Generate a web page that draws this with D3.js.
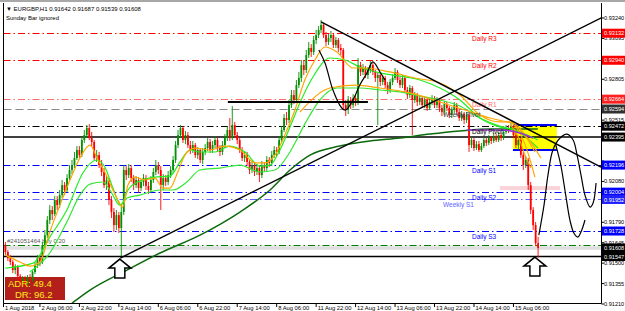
<!DOCTYPE html>
<html>
<head>
<meta charset="utf-8">
<script src="https://cdn.jsdelivr.net/npm/d3@7"></script>
<style>
html, body { margin: 0; padding: 0; background: #fff; }
svg { display: block; font-family: "Liberation Sans", Arial, sans-serif; }
</style>
</head>
<body>
<div class="chart"></div>
<script>
// EURGBP H1 candles, one value per bar
const candleOpen = [
0.91628,0.91579,0.91536,0.91508,0.91451,0.91479,0.91408,0.91366,0.91394,0.91351,
0.91401,0.91380,0.91437,0.91486,0.91536,0.91508,0.91628,0.91699,0.91806,0.91877,
0.91848,0.91948,0.91912,0.91983,0.92054,0.92019,0.92104,0.92161,0.92196,0.92246,
0.92303,0.92267,0.92374,0.92409,0.92459,0.92388,0.92360,0.92246,0.92267,0.92196,
0.92147,0.92054,0.92090,0.91948,0.91863,0.91770,0.91841,0.91749,0.91863,0.92161,
0.92125,0.92175,0.92104,0.92054,0.92090,0.92033,0.92076,0.92104,0.92047,0.92019,
0.92090,0.92147,0.92196,0.92161,0.92054,0.92104,0.92076,0.92125,0.92161,0.92232,
0.92338,0.92409,0.92459,0.92374,0.92409,0.92338,0.92303,0.92338,0.92267,0.92303,
0.92232,0.92289,0.92317,0.92360,0.92303,0.92338,0.92374,0.92317,0.92289,0.92338,
0.92388,0.92445,0.92388,0.92480,0.92409,0.92374,0.92303,0.92246,0.92267,0.92218,
0.92161,0.92196,0.92147,0.92175,0.92125,0.92196,0.92175,0.92232,0.92211,0.92267,
0.92303,0.92289,0.92374,0.92445,0.92530,0.92516,0.92622,0.92693,0.92658,0.92764,
0.92814,0.92906,0.92871,0.92977,0.93027,0.92999,0.93084,0.93119,0.93155,0.93190,
0.93119,0.93070,0.93098,0.93119,0.93048,0.93084,0.93027,0.93013,0.92622,0.92587,
0.92658,0.92622,0.92672,0.92644,0.92906,0.92857,0.92885,0.92835,0.92871,0.92906,
0.92857,0.92814,0.92835,0.92786,0.92814,0.92764,0.92729,0.92786,0.92814,0.92857,
0.92800,0.92764,0.92814,0.92729,0.92693,0.92743,0.92658,0.92693,0.92644,0.92672,
0.92622,0.92658,0.92601,0.92644,0.92672,0.92622,0.92658,0.92601,0.92573,0.92629,
0.92601,0.92551,0.92587,0.92622,0.92573,0.92530,0.92558,0.92516,0.92551,0.92338,
0.92374,0.92317,0.92345,0.92303,0.92331,0.92374,0.92353,0.92388,0.92367,0.92402,
0.92374,0.92409,0.92388,0.92431,0.92459,0.92445,0.92473,0.92409,0.92338,0.92374,
0.92267,0.92196,0.92232,0.92054,0.91877,0.91770,0.91642];
const candleHigh = [
0.91650,0.91593,0.91557,0.91522,0.91493,0.91486,0.91422,0.91408,0.91408,0.91415,
0.91422,0.91451,0.91508,0.91557,0.91557,0.91650,0.91735,0.91834,0.91912,0.91905,
0.91976,0.91976,0.92019,0.92090,0.92076,0.92132,0.92196,0.92232,0.92289,0.92331,
0.92331,0.92395,0.92445,0.92480,0.92487,0.92431,0.92374,0.92303,0.92289,0.92232,
0.92175,0.92118,0.92104,0.91976,0.91891,0.91877,0.91863,0.91912,0.92196,0.92189,
0.92203,0.92196,0.92125,0.92118,0.92111,0.92097,0.92132,0.92125,0.92076,0.92118,
0.92175,0.92232,0.92218,0.92189,0.92132,0.92125,0.92154,0.92189,0.92260,0.92367,
0.92445,0.92480,0.92473,0.92438,0.92431,0.92367,0.92367,0.92353,0.92324,0.92317,
0.92317,0.92345,0.92388,0.92381,0.92367,0.92402,0.92395,0.92338,0.92367,0.92416,
0.92473,0.92530,0.92615,0.92502,0.92431,0.92395,0.92324,0.92296,0.92289,0.92239,
0.92225,0.92218,0.92203,0.92196,0.92225,0.92218,0.92260,0.92253,0.92296,0.92331,
0.92324,0.92402,0.92473,0.92558,0.92573,0.92658,0.92729,0.92729,0.92800,0.92857,
0.92942,0.92942,0.93013,0.93070,0.93055,0.93112,0.93155,0.93183,0.93226,0.93205,
0.93141,0.93126,0.93148,0.93134,0.93105,0.93098,0.93055,0.93027,0.92658,0.92686,
0.92679,0.92700,0.92693,0.92956,0.92928,0.92913,0.92899,0.92892,0.92935,0.92921,
0.92871,0.92857,0.92850,0.92835,0.92828,0.92786,0.92807,0.92842,0.92885,0.92871,
0.92821,0.92835,0.92828,0.92750,0.92764,0.92757,0.92715,0.92708,0.92693,0.92686,
0.92679,0.92672,0.92665,0.92693,0.92686,0.92679,0.92672,0.92622,0.92651,0.92644,
0.92615,0.92608,0.92644,0.92637,0.92594,0.92580,0.92573,0.92573,0.92566,0.92395,
0.92388,0.92367,0.92367,0.92353,0.92395,0.92388,0.92409,0.92402,0.92424,0.92416,
0.92431,0.92424,0.92452,0.92480,0.92480,0.92495,0.92487,0.92431,0.92395,0.92388,
0.92289,0.92260,0.92246,0.92076,0.91898,0.91792,0.91687];
const candleLow = [
0.91557,0.91515,0.91486,0.91430,0.91422,0.91387,0.91337,0.91344,0.91330,0.91337,
0.91359,0.91366,0.91422,0.91465,0.91479,0.91493,0.91607,0.91678,0.91777,0.91806,
0.91834,0.91877,0.91891,0.91962,0.91983,0.92005,0.92090,0.92132,0.92175,0.92232,
0.92246,0.92253,0.92353,0.92388,0.92374,0.92331,0.92232,0.92218,0.92175,0.92118,
0.92033,0.92019,0.91912,0.91820,0.91721,0.91735,0.91714,0.91550,0.91841,0.92090,
0.92104,0.92076,0.92019,0.92033,0.91998,0.92012,0.92047,0.92019,0.91990,0.92005,
0.92069,0.92125,0.92132,0.91877,0.92019,0.92047,0.92054,0.92104,0.92140,0.92211,
0.92317,0.92388,0.92353,0.92345,0.92317,0.92274,0.92282,0.92246,0.92239,0.92211,
0.92203,0.92267,0.92296,0.92282,0.92282,0.92317,0.92296,0.92260,0.92267,0.92317,
0.92367,0.92367,0.92374,0.92388,0.92345,0.92282,0.92225,0.92218,0.92189,0.92132,
0.92140,0.92118,0.92125,0.92076,0.92104,0.92147,0.92154,0.92182,0.92189,0.92246,
0.92260,0.92274,0.92353,0.92431,0.92480,0.92495,0.92601,0.92629,0.92637,0.92743,
0.92786,0.92835,0.92850,0.92956,0.92963,0.92977,0.93055,0.93098,0.93134,0.93098,
0.93041,0.93048,0.93070,0.93027,0.93027,0.92999,0.92977,0.92587,0.92544,0.92558,
0.92594,0.92601,0.92615,0.92622,0.92828,0.92835,0.92814,0.92807,0.92850,0.92835,
0.92786,0.92480,0.92757,0.92764,0.92743,0.92700,0.92708,0.92764,0.92800,0.92779,
0.92743,0.92743,0.92708,0.92665,0.92672,0.92409,0.92637,0.92615,0.92622,0.92601,
0.92601,0.92580,0.92587,0.92622,0.92601,0.92601,0.92573,0.92544,0.92551,0.92580,
0.92530,0.92530,0.92566,0.92551,0.92509,0.92509,0.92487,0.92495,0.92289,0.92317,
0.92296,0.92303,0.92289,0.92289,0.92317,0.92331,0.92338,0.92345,0.92353,0.92360,
0.92360,0.92367,0.92374,0.92416,0.92424,0.92431,0.92388,0.92317,0.92303,0.92246,
0.92161,0.92175,0.92019,0.91848,0.91735,0.91621,0.91539];
const candleClose = [
0.91579,0.91536,0.91508,0.91451,0.91479,0.91408,0.91366,0.91394,0.91351,0.91401,
0.91380,0.91437,0.91486,0.91536,0.91508,0.91628,0.91699,0.91806,0.91877,0.91848,
0.91948,0.91912,0.91983,0.92054,0.92019,0.92104,0.92161,0.92196,0.92246,0.92303,
0.92267,0.92374,0.92409,0.92459,0.92388,0.92360,0.92246,0.92267,0.92196,0.92147,
0.92054,0.92090,0.91948,0.91863,0.91770,0.91841,0.91749,0.91863,0.92161,0.92125,
0.92175,0.92104,0.92054,0.92090,0.92033,0.92076,0.92104,0.92047,0.92019,0.92090,
0.92147,0.92196,0.92161,0.92054,0.92104,0.92076,0.92125,0.92161,0.92232,0.92338,
0.92409,0.92459,0.92374,0.92409,0.92338,0.92303,0.92338,0.92267,0.92303,0.92232,
0.92289,0.92317,0.92360,0.92303,0.92338,0.92374,0.92317,0.92289,0.92338,0.92388,
0.92445,0.92388,0.92480,0.92409,0.92374,0.92303,0.92246,0.92267,0.92218,0.92161,
0.92196,0.92147,0.92175,0.92125,0.92196,0.92175,0.92232,0.92211,0.92267,0.92303,
0.92289,0.92374,0.92445,0.92530,0.92516,0.92622,0.92693,0.92658,0.92764,0.92814,
0.92906,0.92871,0.92977,0.93027,0.92999,0.93084,0.93119,0.93155,0.93190,0.93119,
0.93070,0.93098,0.93119,0.93048,0.93084,0.93027,0.93013,0.92622,0.92587,0.92658,
0.92622,0.92672,0.92644,0.92906,0.92857,0.92885,0.92835,0.92871,0.92906,0.92857,
0.92814,0.92835,0.92786,0.92814,0.92764,0.92729,0.92786,0.92814,0.92857,0.92800,
0.92764,0.92814,0.92729,0.92693,0.92743,0.92658,0.92693,0.92644,0.92672,0.92622,
0.92658,0.92601,0.92644,0.92672,0.92622,0.92658,0.92601,0.92573,0.92629,0.92601,
0.92551,0.92587,0.92622,0.92573,0.92530,0.92558,0.92516,0.92551,0.92338,0.92374,
0.92317,0.92345,0.92303,0.92331,0.92374,0.92353,0.92388,0.92367,0.92402,0.92374,
0.92409,0.92388,0.92431,0.92459,0.92445,0.92473,0.92409,0.92338,0.92374,0.92267,
0.92196,0.92232,0.92054,0.91877,0.91770,0.91642,0.91608];

// axes
const timeTickBars = [-2,14,30,46,62,78,94,110,126,142,158,174,190,206];
const timeTickLabels = ["1 Aug 2018","2 Aug 06:00","2 Aug 22:00","3 Aug 14:00","6 Aug 06:00","6 Aug 22:00",
  "7 Aug 14:00","8 Aug 06:00","11 Aug 22:00","12 Aug 14:00","13 Aug 06:00","13 Aug 22:00","14 Aug 14:00","15 Aug 06:00"];
const priceTicks = [0.93240,0.93095,0.92950,0.92805,0.92660,0.92515,0.92370,0.92225,
  0.92080,0.91935,0.91790,0.91645,0.91500,0.91355,0.91210];

// pivot levels
const pivotPrices = [0.93132,0.92940,0.92664,0.92594,0.92472,0.92196,0.92004,0.91952,0.91728];
const pivotNames = ["Daily R3","Daily R2","Daily R1","Weekly Pivot","Daily Pivot","Daily S1","Daily S2","Weekly S1","Daily S3"];
const srPrices = [0.92395, 0.91547];
const orderPrice = 0.91630;
const orderText = "#241051464 buy 0.20";
const bidPrice = 0.91608;
const quoteText = "EURGBP,H1  0.91642 0.91687 0.91539 0.91608";
const noteText = "Sunday Bar ignored";
const adrText = ["ADR: 49.4", "DR: 96.2"];

// moving averages as [bar, price]
const ma200 = [[27.0,0.91216],[34.3,0.91309],[49.3,0.91451],[62.7,0.91572],[78.9,0.91699],[95.1,0.91863],
  [107.3,0.92019],[115.4,0.92161],[123.5,0.92267],[135.6,0.92331],[147.8,0.92367],[160.0,0.92388],
  [172.1,0.92416],[184.3,0.92438],[196.5,0.92452],[215.9,0.92452]];
const maFast = [[0,0.91465],[11.2,0.91500],[18.0,0.91685],[24.9,0.91877],[31.4,0.92140],[37.1,0.92232],
  [40.3,0.92182],[43.6,0.92033],[46.8,0.91912],[49.7,0.92019],[54.5,0.92083],[60.6,0.92111],[66.7,0.92118],
  [70.8,0.92218],[74.8,0.92303],[78.9,0.92289],[85.0,0.92289],[91.0,0.92331],[97.1,0.92289],[103.2,0.92189],
  [107.3,0.92196],[111.3,0.92303],[115.4,0.92466],[119.4,0.92637],[124.7,0.92821],[131.6,0.92956],
  [137.7,0.92942],[143.7,0.92892],[151.9,0.92850],[160.0,0.92828],[168.1,0.92800],[176.2,0.92743],
  [184.3,0.92658],[192.4,0.92530],[200.5,0.92466],[206.6,0.92445],[215.9,0.92317]];
const maSlow = [[9.9,0.91437],[18.0,0.91572],[24.9,0.91792],[30.2,0.91983],[34.3,0.92061],[39.5,0.92076],
  [42.4,0.92019],[46.4,0.91912],[49.3,0.91962],[54.5,0.91983],[62.7,0.92019],[67.9,0.92019],[73.6,0.92076],
  [78.9,0.92161],[87.0,0.92175],[95.1,0.92196],[103.2,0.92147],[109.3,0.92161],[115.4,0.92289],
  [121.4,0.92487],[127.5,0.92658],[134.4,0.92743],[143.7,0.92743],[151.9,0.92729],[160.0,0.92715],
  [168.1,0.92686],[176.2,0.92658],[184.3,0.92615],[192.4,0.92530],[200.5,0.92473],[206.6,0.92445],[215.9,0.92374]];
const maOrange = [[0,0.91557],[5.9,0.91508],[9.9,0.91479],[14.0,0.91508],[18.0,0.91721],[22.1,0.91912],
  [26.2,0.92090],[30.2,0.92246],[34.3,0.92338],[37.5,0.92232],[40.3,0.92147],[43.2,0.92033],[45.6,0.91948],
  [47.6,0.91898],[49.7,0.92054],[52.5,0.92111],[56.6,0.92090],[60.6,0.92104],[63.9,0.92033],[66.7,0.92033],
  [69.9,0.92147],[72.8,0.92267],[76.8,0.92317],[82.9,0.92303],[89.0,0.92331],[95.1,0.92303],[101.2,0.92211],
  [105.2,0.92211],[109.3,0.92267],[113.3,0.92409],[117.4,0.92587],[121.4,0.92800],[125.5,0.92942],
  [129.6,0.93034],[134.4,0.92999],[140.9,0.92885],[145.8,0.92885],[155.9,0.92857],[166.1,0.92814],
  [176.2,0.92779],[184.3,0.92693],[192.4,0.92551],[200.5,0.92502],[205.4,0.92502]];
const maOrange2 = [[119.4,0.92573],[131.6,0.92743],[141.7,0.92764],[151.9,0.92743],[164.0,0.92708],
  [176.2,0.92644],[186.3,0.92587],[196.5,0.92530],[205.4,0.92495]];
const orangeFans = [
  [[205.4,0.92502],[208.6,0.92459],[211.9,0.92374],[214.7,0.92289]],
  [[205.4,0.92495],[208.6,0.92424],[211.5,0.92303],[214.7,0.92111]],
  [[204.6,0.92487],[207.8,0.92402],[210.7,0.92267],[213.1,0.92175]],
  [[206.6,0.92480],[210.7,0.92409],[213.9,0.92338],[217.1,0.92246]]];
const purpleLine = [[187.1,0.92445],[200.5,0.92445],[208.6,0.92424],[213.9,0.92388]];

// drawings
const trendUp = [[46.6,0.91536],[242.3,0.93247]];
const trendDown = [[128.0,0.93212],[241.5,0.92182]];
const flatLine = [[90.2,0.92644],[147.0,0.92644]];
const sketchMid = [[127.1,0.93013],[129.6,0.92921],[132.8,0.92729],[136.4,0.92601],[138.0,0.92587],
  [140.9,0.92658],[143.7,0.92764],[146.6,0.92850],[149.0,0.92928],[151.9,0.92857],[153.9,0.92800]];
const sketchA = [[216.3,0.91699],[218.4,0.91912],[220.0,0.92125],[222.0,0.92303],[224.9,0.92388],
  [227.7,0.92416],[230.2,0.92374],[231.8,0.92267],[233.4,0.92125],[235.0,0.91983],[237.1,0.91898],
  [238.3,0.91927],[239.5,0.92069]];
const sketchB = [[223.2,0.92338],[225.2,0.92196],[227.2,0.91983],[228.9,0.91806],[230.5,0.91714],
  [232.1,0.91685],[233.7,0.91735],[235.0,0.91806]];
const zoneBox = [[205.8,0.92480],[223.6,0.92303]];
const pinkBand = [[200.5,0.92047],[224.9,0.92019]];
const arrowBars = [46.4, 214.7];
const arrowPrices = [0.91529, 0.91543];

const W = 625, H = 311;
const pL = 3.5, pR = 601.5, pT = 3, pB = 303.5;

const x = d3.scaleLinear().domain([0, 216]).range([5.4, 538.1]);
const y = d3.scaleLinear().domain([0.91210, 0.93240]).range([304, 18]);

const svg = d3.select(".chart").append("svg")
    .attr("width", W)
    .attr("height", H);

svg.append("rect").attr("width", W).attr("height", H).attr("fill", "#fff");
svg.append("rect").attr("x", 0).attr("y", 0).attr("width", W).attr("height", 2).attr("fill", "#a8a8a8");

svg.append("clipPath").attr("id", "plotclip")
    .append("rect").attr("x", pL).attr("y", pT).attr("width", pR - pL).attr("height", pB - pT);

const g = svg.append("g").attr("clip-path", "url(#plotclip)");

// ADR box sits behind everything
g.append("rect")
    .attr("x", 5).attr("y", 277).attr("width", 60).attr("height", 23)
    .attr("fill", "#b3201c");

// zone rectangle and pink band
g.append("rect")
    .attr("x", x(zoneBox[0][0])).attr("y", y(zoneBox[0][1]))
    .attr("width", x(zoneBox[1][0]) - x(zoneBox[0][0]))
    .attr("height", y(zoneBox[1][1]) - y(zoneBox[0][1]))
    .attr("fill", "#ffff00");
zoneBox.forEach(function(d) {
    g.append("line")
        .attr("x1", x(zoneBox[0][0])).attr("x2", x(zoneBox[1][0]))
        .attr("y1", y(d[1])).attr("y2", y(d[1]))
        .attr("stroke", "#0000ff").attr("stroke-width", 2);
});
g.append("rect")
    .attr("x", x(pinkBand[0][0])).attr("y", y(pinkBand[0][1]))
    .attr("width", x(pinkBand[1][0]) - x(pinkBand[0][0]))
    .attr("height", y(pinkBand[1][1]) - y(pinkBand[0][1]))
    .attr("fill", "#f8d3d7");

// level styles
function pivotStyle(name) {
    if (name === "Daily R1") return { c: "#ff6a6a", dash: "7,3,1.5,3", box: "#ff2020" };
    if (name.indexOf("Daily R") === 0) return { c: "#ff0000", dash: "7,3,1.5,3", box: "#ff0000" };
    if (name === "Weekly Pivot") return { c: "#8a8a8a", dash: "8,4", box: "#303030", text: "#404040" };
    if (name === "Daily Pivot") return { c: "#000000", dash: "7,3,1.5,3", box: "#000000" };
    if (name === "Weekly S1") return { c: "#6060ff", dash: "7,3,1.5,3", box: "#2020ff" };
    return { c: "#0000ff", dash: "7,3,1.5,3", box: "#0000ff" };
}

// bid band
g.append("line")
    .attr("x1", pL).attr("x2", pR)
    .attr("y1", y(bidPrice)).attr("y2", y(bidPrice))
    .attr("stroke", "#dedede").attr("stroke-width", 3.5);

pivotPrices.forEach(function(p, i) {
    const s = pivotStyle(pivotNames[i]);
    g.append("line")
        .attr("x1", pL).attr("x2", pR)
        .attr("y1", Math.round(y(p)) + 0.5).attr("y2", Math.round(y(p)) + 0.5)
        .attr("stroke", s.c).attr("stroke-width", 1)
        .attr("stroke-dasharray", s.dash);
});

// order line
g.append("line")
    .attr("x1", pL).attr("x2", pR)
    .attr("y1", Math.round(y(orderPrice)) + 0.5).attr("y2", Math.round(y(orderPrice)) + 0.5)
    .attr("stroke", "#008000").attr("stroke-dasharray", "7,3,1.5,3");
g.append("text")
    .attr("x", 7).attr("y", y(orderPrice) - 2)
    .attr("font-size", "6px").attr("fill", "#555")
    .text(orderText);

srPrices.forEach(function(p) {
    g.append("line")
        .attr("x1", pL).attr("x2", pR)
        .attr("y1", y(p)).attr("y2", y(p))
        .attr("stroke", "#000").attr("stroke-width", 1.6);
});

// candles
const bars = candleClose.map(function(c, i) {
    return { i: i, o: candleOpen[i], h: candleHigh[i], l: candleLow[i], c: c };
});
const candles = g.append("g");
candles.selectAll(".wick").data(bars).enter().append("line")
    .attr("class", "wick")
    .attr("x1", d => x(d.i)).attr("x2", d => x(d.i))
    .attr("y1", d => y(d.h)).attr("y2", d => y(d.l))
    .attr("stroke", d => d.c >= d.o ? "#009000" : "#ff0000")
    .attr("stroke-width", 0.9);
candles.selectAll(".body").data(bars).enter().append("rect")
    .attr("class", "body")
    .attr("x", d => x(d.i) - 0.9)
    .attr("width", 1.8)
    .attr("y", d => y(Math.max(d.o, d.c)))
    .attr("height", d => Math.max(0.8, Math.abs(y(d.o) - y(d.c))))
    .attr("fill", d => d.c >= d.o ? "#009000" : "#ff0000");

// indicator lines
const maLine = d3.line().x(d => x(d[0])).y(d => y(d[1])).curve(d3.curveMonotoneX);
g.append("path").datum(ma200).attr("d", maLine)
    .attr("fill", "none").attr("stroke", "#0b6a0b").attr("stroke-width", 1.5);
g.append("path").datum(maSlow).attr("d", maLine)
    .attr("fill", "none").attr("stroke", "#33e833").attr("stroke-width", 1.2);
g.append("path").datum(maFast).attr("d", maLine)
    .attr("fill", "none").attr("stroke", "#22ee22").attr("stroke-width", 1.2);
g.append("path").datum(maOrange2).attr("d", maLine)
    .attr("fill", "none").attr("stroke", "#ffa500").attr("stroke-width", 1.2);
g.append("path").datum(maOrange).attr("d", maLine)
    .attr("fill", "none").attr("stroke", "#ffa500").attr("stroke-width", 1.2);
orangeFans.forEach(function(f) {
    g.append("path").datum(f).attr("d", maLine)
        .attr("fill", "none").attr("stroke", "#ffa500").attr("stroke-width", 1.1);
});
g.append("path").datum(purpleLine).attr("d", maLine)
    .attr("fill", "none").attr("stroke", "#9b30d0").attr("stroke-width", 1.4);

// pivot labels
pivotPrices.forEach(function(p, i) {
    const name = pivotNames[i];
    const s = pivotStyle(name);
    g.append("text")
        .attr("x", name.indexOf("Weekly") === 0 ? 443 : 472)
        .attr("y", y(p) + 8)
        .attr("font-size", "6.5px")
        .attr("fill", s.text || s.c)
        .text(name);
});

// trend lines and sketches
const straight = d3.line().x(d => x(d[0])).y(d => y(d[1]));
[trendUp, trendDown].forEach(function(t) {
    g.append("path").datum(t).attr("d", straight)
        .attr("fill", "none").attr("stroke", "#000").attr("stroke-width", 1.4);
});
g.append("path").datum(flatLine).attr("d", straight)
    .attr("fill", "none").attr("stroke", "#000").attr("stroke-width", 2);
const sketch = d3.line().x(d => x(d[0])).y(d => y(d[1])).curve(d3.curveCatmullRom);
[sketchMid, sketchA, sketchB].forEach(function(s) {
    g.append("path").datum(s).attr("d", sketch)
        .attr("fill", "none").attr("stroke", "#000").attr("stroke-width", 1.2);
});

// hollow arrows
arrowBars.forEach(function(b, i) {
    const tx = x(b), ty = y(arrowPrices[i]);
    g.append("path")
        .attr("d", `M${tx},${ty} L${tx + 11},${ty + 9} L${tx + 5},${ty + 9} L${tx + 5},${ty + 19} L${tx - 5},${ty + 19} L${tx - 5},${ty + 9} L${tx - 11},${ty + 9} Z`)
        .attr("fill", "#fff").attr("stroke", "#000").attr("stroke-width", 1.5);
});

// ADR text
g.append("text").attr("x", 8).attr("y", 287)
    .attr("font-size", "9.5px").attr("fill", "#ffe81a").text(adrText[0]);
g.append("text").attr("x", 15).attr("y", 297.5)
    .attr("font-size", "9.5px").attr("fill", "#ffe81a").text(adrText[1]);

// top-left info
svg.append("text").attr("x", 6).attr("y", 11)
    .attr("font-size", "6px").attr("fill", "#000")
    .text("\u25BC " + quoteText);
svg.append("text").attr("x", 6).attr("y", 19.5)
    .attr("font-size", "6px").attr("fill", "#000")
    .text(noteText);

// frame
svg.append("line").attr("x1", pL).attr("x2", pL).attr("y1", pT).attr("y2", pB).attr("stroke", "#000");
svg.append("line").attr("x1", pR).attr("x2", pR).attr("y1", pT).attr("y2", pB).attr("stroke", "#000");
svg.append("line").attr("x1", pL).attr("x2", pR).attr("y1", pB).attr("y2", pB).attr("stroke", "#000");

// price axis: plain ticks first, labelled boxes on top
const boxPrices = pivotPrices.concat(srPrices, [bidPrice]);
const axisR = svg.append("g");
priceTicks.forEach(function(p) {
    axisR.append("line").attr("x1", pR).attr("x2", pR + 2.5)
        .attr("y1", y(p)).attr("y2", y(p)).attr("stroke", "#000");
    // a tick label that a box would hide completely is left out
    const hidden = boxPrices.some(b => Math.abs(y(b) - y(p)) < 5);
    if (hidden) return;
    axisR.append("text").attr("x", pR + 2.5).attr("y", y(p) + 2)
        .attr("font-size", "5.6px").attr("fill", "#000")
        .text(d3.format(".5f")(p));
});

function priceBox(p, fill) {
    axisR.append("rect").attr("x", pR + 0.5).attr("y", y(p) - 4.5)
        .attr("width", W - pR).attr("height", 9).attr("fill", fill);
    axisR.append("text").attr("x", pR + 2.5).attr("y", y(p) + 2.1)
        .attr("font-size", "5.6px").attr("fill", "#fff")
        .text(d3.format(".5f")(p));
}
pivotPrices.forEach(function(p, i) { priceBox(p, pivotStyle(pivotNames[i]).box); });
srPrices.forEach(function(p) { priceBox(p, "#000"); });
priceBox(bidPrice, "#000");

// time axis
timeTickBars.forEach(function(b, i) {
    const tx = Math.max(pL, x(b));
    svg.append("line").attr("x1", tx).attr("x2", tx)
        .attr("y1", pB).attr("y2", pB + 3.5).attr("stroke", "#000");
    svg.append("text").attr("x", tx + 1.5).attr("y", 310)
        .attr("font-size", "5.8px").attr("fill", "#000")
        .text(timeTickLabels[i]);
});
</script>
</body>
</html>
